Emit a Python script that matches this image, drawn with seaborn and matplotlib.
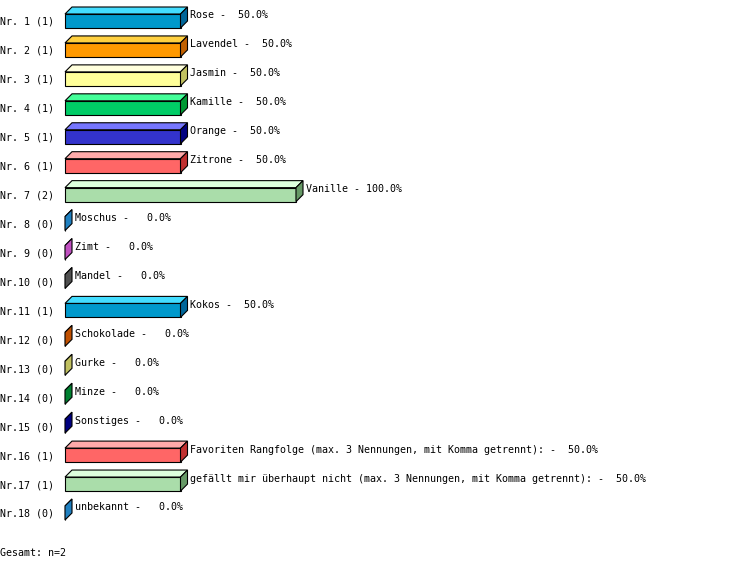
import matplotlib
matplotlib.use("Agg")
import matplotlib.pyplot as plt
from matplotlib.patches import Polygon
from matplotlib.transforms import blended_transform_factory
import seaborn as sns

# answers and their counts (n=2 in total)
names = ["Rose", "Lavendel", "Jasmin", "Kamille", "Orange", "Zitrone", "Vanille",
         "Moschus", "Zimt", "Mandel", "Kokos", "Schokolade", "Gurke", "Minze",
         "Sonstiges",
         "Favoriten Rangfolge (max. 3 Nennungen, mit Komma getrennt):",
         "gefällt mir überhaupt nicht (max. 3 Nennungen, mit Komma getrennt):",
         "unbekannt"]
counts = [1, 1, 1, 1, 1, 1, 2, 0, 0, 0, 1, 0, 0, 0, 0, 1, 1, 0]
percent = [50.0, 50.0, 50.0, 50.0, 50.0, 50.0, 100.0, 0.0, 0.0, 0.0, 50.0,
           0.0, 0.0, 0.0, 0.0, 50.0, 50.0, 0.0]
total = 2

row_labels = [f"Nr.{i + 1:2d} ({c})" for i, c in enumerate(counts)]

# face colours: front, top, side
front = ["#0099cc", "#ff9900", "#ffff99", "#00cc66", "#3333cc", "#ff6666", "#aaddaa",
         "#2288cc", "#cc55cc", "#555555", "#0099cc", "#cc5500", "#cccc66", "#009933",
         "#000088", "#ff6666", "#aaddaa", "#2288cc"]
top = ["#44ddff", "#ffd040", "#ffffdd", "#44ff99", "#7777ff", "#ffaaaa", "#ddffdd",
       "#66ccff", "#ff99ff", "#999999", "#44ddff", "#ff8833", "#ffffaa", "#44cc66",
       "#4444cc", "#ffaaaa", "#ddffdd", "#66ccff"]
side = ["#006699", "#c06000", "#c0c060", "#009933", "#000080", "#c03030", "#669966",
        "#2080c0", "#c050c0", "#505050", "#006699", "#c05000", "#c0c060", "#008030",
        "#000080", "#c03030", "#669966", "#2080c0"]

W, H = 753, 571
px_x = 2.31          # pixels per percent
px_y = 28.94         # pixels per row
x0_px, y0_px = 65, 21
depth_x = 7 / px_x
depth_y = 7 / px_y

fig = plt.figure(figsize=(W / 100, H / 100), dpi=100)
ax = fig.add_axes([0, 0, 1, 1])

sns.barplot(x=percent, y=row_labels, hue=row_labels, palette=front, legend=False,
            orient="h", width=14 / px_y, edgecolor="black", linewidth=0.8,
            saturation=1, ax=ax)

ax.set_xlim(-x0_px / px_x, (W - x0_px) / px_x)
ax.set_ylim((H - y0_px) / px_y, -y0_px / px_y)
ax.axis("off")

font = dict(family="DejaVu Sans Mono", fontsize=7.2, color="black")

for i, p in enumerate(ax.patches[:len(names)]):
    x, y, w, h = p.get_x(), p.get_y(), p.get_width(), p.get_height()
    # top face
    ax.add_patch(Polygon([(x, y), (x + depth_x, y - depth_y),
                          (x + w + depth_x, y - depth_y), (x + w, y)],
                         closed=True, facecolor=top[i], edgecolor="black",
                         linewidth=0.8, zorder=3))
    # side face
    ax.add_patch(Polygon([(x + w, y), (x + w + depth_x, y - depth_y),
                          (x + w + depth_x, y + h - depth_y), (x + w, y + h)],
                         closed=True, facecolor=side[i], edgecolor="black",
                         linewidth=0.8, zorder=3))
    cy = y + h / 2
    ax.text(x + w + depth_x + 3 / px_x, cy - 5.5 / px_y,
            f"{names[i]} - {percent[i]:5.1f}%", ha="left", va="center", **font)

trans = blended_transform_factory(ax.transAxes, ax.transData)
for i, lab in enumerate(row_labels):
    ax.text(0, i + 1 / px_y, lab, ha="left", va="center", transform=trans, **font)

fig.text(0, 1 - 553 / H, f"Gesamt: n={total}", ha="left", va="center", **font)

fig.savefig("out.png", dpi=100, facecolor="white")
